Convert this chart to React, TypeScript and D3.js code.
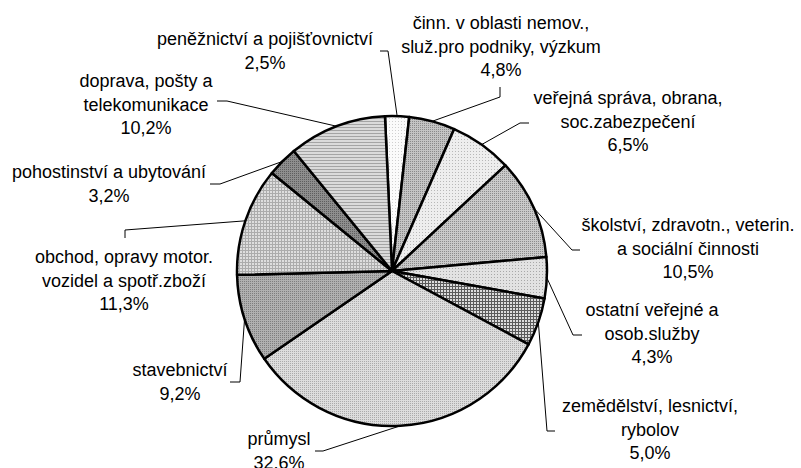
import React, { useRef, useEffect } from 'react';
import * as d3 from 'd3';

// clockwise from the top
const categories: string[] = [
    'peněžnictví a pojišťovnictví',
    'činn. v oblasti nemov., služ.pro podniky, výzkum',
    'veřejná správa, obrana, soc.zabezpečení',
    'školství, zdravotn., veterin. a sociální činnosti',
    'ostatní veřejné a osob.služby',
    'zemědělství, lesnictví, rybolov',
    'průmysl',
    'stavebnictví',
    'obchod, opravy motor. vozidel a spotř.zboží',
    'pohostinství a ubytování',
    'doprava, pošty a telekomunikace'
];

const values: number[] = [2.5, 4.8, 6.5, 10.5, 4.3, 5.0, 32.6, 9.2, 11.3, 3.2, 10.2];

const labelLines: string[][] = [
    ['peněžnictví a pojišťovnictví'],
    ['činn. v oblasti nemov.,', 'služ.pro podniky, výzkum'],
    ['veřejná správa, obrana,', 'soc.zabezpečení'],
    ['školství, zdravotn., veterin.', 'a sociální činnosti'],
    ['ostatní veřejné a', 'osob.služby'],
    ['zemědělství, lesnictví,', 'rybolov'],
    ['průmysl'],
    ['stavebnictví'],
    ['obchod, opravy motor.', 'vozidel a spotř.zboží'],
    ['pohostinství a ubytování'],
    ['doprava, pošty a', 'telekomunikace']
];

// label layout: text centre x, first baseline y, leader tick [x0, y0, x1, y1]
const labelLayout: { x: number; y: number; tick: number[] }[] = [
    { x: 265, y: 45, tick: [380, 51, 388, 51] },
    { x: 501, y: 29, tick: [500, 87, 500, 97] },
    { x: 628, y: 104, tick: [529, 123, 520, 123] },
    { x: 688, y: 231, tick: [580, 250, 572, 250] },
    { x: 652, y: 316, tick: [582, 335, 573, 335] },
    { x: 650, y: 412, tick: [555, 431, 547, 431] },
    { x: 279, y: 445, tick: [315, 451, 323, 451] },
    { x: 180, y: 376, tick: [230, 382, 240, 382] },
    { x: 124, y: 263, tick: [125, 238, 125, 230] },
    { x: 109, y: 178, tick: [210, 184, 220, 184] },
    { x: 146, y: 87, tick: [217, 101, 227, 101] }
];

// fill textures: [background, dot colour, tile size, kind]
const textures: [string, string, number, string][] = [
    ['#fbfbfb', '#d0d0d0', 3, 'dot'],
    ['#c4c4c4', '#8a8a8a', 2, 'dot'],
    ['#eeeeee', '#b8b8b8', 3, 'dot'],
    ['#cacaca', '#8c8c8c', 2, 'dot'],
    ['#e2e2e2', '#a8a8a8', 3, 'dot'],
    ['#dcdcdc', '#5a5a5a', 3, 'grid'],
    ['#dddddd', '#ababab', 2, 'dot'],
    ['#b0b0b0', '#7e7e7e', 2, 'dot'],
    ['#dedede', '#acacac', 3, 'grid'],
    ['#8e8e8e', '#5e5e5e', 2, 'dot'],
    ['#dadada', '#a4a4a4', 3, 'hline']
];

const App: React.FC = () => {
    const containerRef = useRef<HTMLDivElement | null>(null);

    useEffect(() => {
        const width = 801;
        const height = 468;
        const cx = 392;
        const cy = 271;
        const radius = 155;

        const container = d3.select(containerRef.current);
        container.selectAll('*').remove();

        const svg = container.append('svg')
            .attr('width', width)
            .attr('height', height)
            .style('position', 'absolute')
            .style('left', '0px')
            .style('top', '0px')
            .style('background', '#fff');

        const defs = svg.append('defs');
        textures.forEach(([bg, fg, size, kind], i) => {
            const p = defs.append('pattern')
                .attr('id', `tex${i}`)
                .attr('patternUnits', 'userSpaceOnUse')
                .attr('width', size)
                .attr('height', size);
            p.append('rect').attr('width', size).attr('height', size).attr('fill', bg);
            if (kind === 'dot') {
                p.append('rect').attr('x', 0).attr('y', 0).attr('width', 1).attr('height', 1).attr('fill', fg);
            } else if (kind === 'grid') {
                p.append('rect').attr('x', 0).attr('y', 0).attr('width', size).attr('height', 1).attr('fill', fg);
                p.append('rect').attr('x', 0).attr('y', 0).attr('width', 1).attr('height', size).attr('fill', fg);
            } else {
                p.append('rect').attr('x', 0).attr('y', 0).attr('width', size).attr('height', 1).attr('fill', fg);
            }
        });

        const startAngle = -2.6 * Math.PI / 180;
        const pie = d3.pie<number>()
            .sort(null)
            .value(d => d)
            .startAngle(startAngle)
            .endAngle(startAngle + 2 * Math.PI);

        const arcs = pie(values);
        const arc = d3.arc<d3.PieArcDatum<number>>().innerRadius(0).outerRadius(radius);
        const edgeArc = d3.arc<d3.PieArcDatum<number>>().innerRadius(radius).outerRadius(radius);

        const g = svg.append('g').attr('transform', `translate(${cx},${cy})`);

        g.selectAll('path.slice')
            .data(arcs)
            .enter().append('path')
            .attr('class', 'slice')
            .attr('d', arc)
            .attr('fill', (d, i) => `url(#tex${i})`)
            .attr('stroke', '#000')
            .attr('stroke-width', 2.5)
            .attr('stroke-linejoin', 'round');

        // leader lines
        const lines = svg.append('g')
            .attr('fill', 'none')
            .attr('stroke', '#000')
            .attr('stroke-width', 1);

        arcs.forEach((d, i) => {
            const [ex, ey] = edgeArc.centroid(d);
            const t = labelLayout[i].tick;
            lines.append('path')
                .attr('d', d3.line()([[t[0], t[1]], [t[2], t[3]], [cx + ex, cy + ey]]));
        });

        // labels
        const fmt = (v: number) => v.toFixed(1).replace('.', ',') + '%';
        const labels = svg.append('g')
            .attr('font-family', '"Liberation Sans", Arial, sans-serif')
            .attr('font-size', 18)
            .attr('fill', '#000')
            .attr('text-anchor', 'middle');

        categories.forEach((c, i) => {
            const pos = labelLayout[i];
            const rows = [...labelLines[i], fmt(values[i])];
            const text = labels.append('text')
                .attr('x', pos.x)
                .attr('y', pos.y);
            rows.forEach((r, k) => {
                text.append('tspan')
                    .attr('x', pos.x)
                    .attr('dy', k === 0 ? 0 : 23.5)
                    .text(r);
            });
        });
    }, []);

    return (
        <div id="chart" ref={containerRef}></div>
    );
};

export default App;
